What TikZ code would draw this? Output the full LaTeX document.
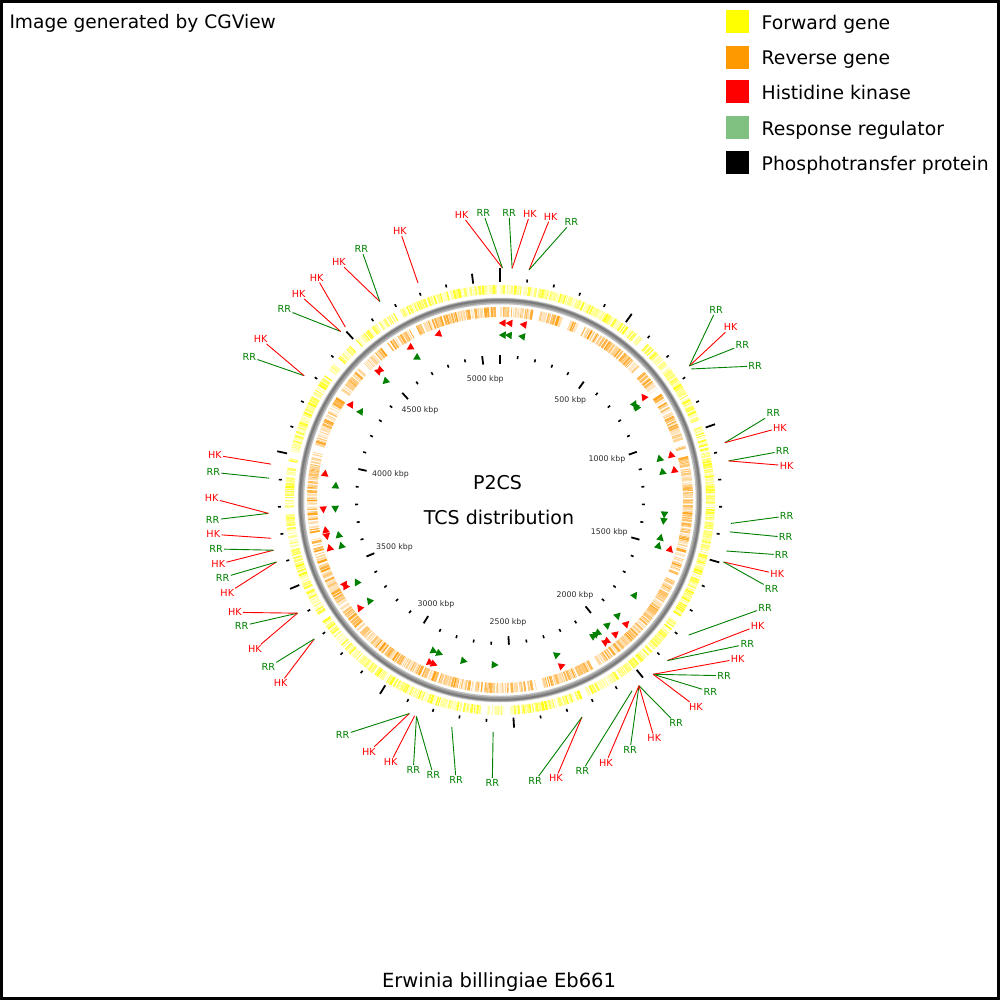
\documentclass[tikz,border=0pt]{standalone}
\usepackage{fontspec}
\setmainfont{DejaVu Sans}
\definecolor{fwdc}{RGB}{255,255,0}
\definecolor{revc}{RGB}{255,153,0}
\definecolor{hkc}{RGB}{255,0,0}
\definecolor{rrc}{RGB}{0,128,0}
\definecolor{rrleg}{RGB}{128,192,128}
\definecolor{kbpc}{RGB}{45,45,45}
\tikzset{
  hkline/.style={draw=hkc, line width=0.9pt},
  rrline/.style={draw=rrc, line width=0.9pt},
  hklab/.style={text=hkc, font=\fontsize{9.7}{10}\selectfont, inner sep=1.2pt},
  rrlab/.style={text=rrc, font=\fontsize{9.7}{10}\selectfont, inner sep=1.2pt},
  hktri/.style={fill=hkc},
  rrtri/.style={fill=rrc},
  majortick/.style={line width=1.8pt, draw=black},
  minortick/.style={line width=1.6pt, draw=black},
  kbplab/.style={text=kbpc, font=\fontsize{7.8}{8}\selectfont, inner sep=0pt},
  legbox/.style={minimum size=23pt, inner sep=0pt, draw=none},
  legtext/.style={font=\fontsize{18.8}{20}\selectfont, anchor=base west, inner sep=0pt},
  bigtext/.style={font=\fontsize{19}{21}\selectfont, anchor=base, inner sep=0pt},
}
% gene ring: #1 r inner, #2 r outer, #3 colour, #4 seed
\newcommand\GeneRing[4]{%
  \pgfmathsetseed{#4}%
  \xdef\GRang{0}%
  \pgfmathsetmacro\GRmid{(#1+#2)/2}%
  \foreach \i in {1,...,800}{%
    \pgfmathsetmacro\GRw{0.4+2.4*rnd}%
    \pgfmathsetmacro\GRgp{0.15+2.3*rnd*rnd+(rnd<0.03)*6}%
    \pgfmathsetmacro\GRop{0.22+0.7*rnd}%
    \pgfmathsetmacro\GRa{\GRang+\GRw*28.6479/\GRmid}%
    \pgfmathsetmacro\GRn{\GRang+(\GRw+\GRgp)*57.2958/\GRmid}%
    \ifdim\GRa pt<359.6pt
      \draw[draw=#3, draw opacity=\GRop, line width=\GRw pt] ({90-\GRa}:#1pt) -- ({90-\GRa}:#2pt);
    \fi
    \xdef\GRang{\GRn}%
  }%
}
% TCS arrowhead: #1 angle (clockwise from top), #2 radius, #3 direction (+1 cw / -1 ccw), #4 style
\newcommand\TcsTri[4]{%
  \pgfmathsetmacro\TTda{3.4/#2*57.2958}%
  \pgfmathsetmacro\TTa{90-(#1+(#3)*\TTda)}%
  \pgfmathsetmacro\TTb{90-(#1-(#3)*\TTda)}%
  \pgfmathsetmacro\TTi{#2-3.8}%
  \pgfmathsetmacro\TTo{#2+3.8}%
  \fill[#4] (\TTa:#2pt) -- (\TTb:\TTi pt) -- (\TTb:\TTo pt) -- cycle;%
}
% label: #1 name, #2 kind, #3 text, #4 x, #5 y, #6 anchor coordinate
\newcommand\TcsLab[6]{%
  \node[#2lab] (#1) at (#4,#5) {#3};
  \draw[#2line] (#1) -- (#6);
}
\begin{document}
\begin{tikzpicture}[x=1pt,y=-1pt]
\useasboundingbox (0,0) rectangle (1000,1000);
\fill[white] (0,0) rectangle (1000,1000);
\draw[line width=3pt] (1.5,1.5) rectangle (998.5,998.5);
\coordinate (C) at (500,500);
\begin{scope}[shift={(C)}]
  % gene rings
  \GeneRing{206}{215}{fwdc}{7}
  \GeneRing{183}{193}{revc}{11}
  % backbone
  \draw[line width=6.5pt, black!25] (0,0) circle[radius=199pt];
  \draw[line width=4.2pt, black!40] (0,0) circle[radius=199.3pt];
  \draw[line width=1.8pt, black!52] (0,0) circle[radius=199.8pt];
  % rulers
  \foreach \k in {0,...,50}{%
    \pgfmathsetmacro\tk{90-\k*7.0586}%
    \pgfmathtruncatemacro\mk{mod(\k,5)}%
    \ifnum\mk=0
      \draw[majortick] (\tk:218pt) -- (\tk:228pt);
      \draw[majortick] (\tk:136.5pt) -- (\tk:145pt);
    \else
      \draw[minortick] (\tk:219.2pt) -- (\tk:222.2pt);
      \draw[minortick] (\tk:142pt) -- (\tk:145pt);
    \fi
  }
  \draw[majortick] (90:218pt) -- (90:232pt);
  % label anchor points
  \foreach \n/\t in {a1/0.6,a2/3.0,a3/7.2,a4/54.7,a5/55.6,a6/75.7,a7/80.3,a8/95.8,a9/97.9,a10/102.7,
      a11/105.5,a12/125.6,a13/133.8,a14/138.7,a15/143.2,a16/145.3,a17/159.3,a18/181.7,a19/192.0,
      a20/201.1,a21/201.6,a22/203.0,a23/233.2,a24/240.8,a25/254.5,a26/257.5,a27/260.5,a28/266.7,
      a29/275.4,a30/278.9,a31/302.4,a32/316.6,a33/318.2,a34/328.8,a35/339.3}{
    \coordinate (\n) at ({90-\t}:232pt);
  }
  % histidine kinases
  \TcsTri{0.7}{177}{-1}{hktri}
  \TcsTri{2.9}{177}{-1}{hktri}
  \TcsTri{7.5}{177}{-1}{hktri}
  \TcsTri{54.2}{177}{-1}{hktri}
  \TcsTri{75.0}{177}{-1}{hktri}
  \TcsTri{80.0}{177}{-1}{hktri}
  \TcsTri{105.9}{177}{-1}{hktri}
  \TcsTri{134.2}{177}{-1}{hktri}
  \TcsTri{139.0}{177}{-1}{hktri}
  \TcsTri{143.2}{177}{1}{hktri}
  \TcsTri{143.2}{177}{-1}{hktri}
  \TcsTri{159.4}{177}{-1}{hktri}
  \TcsTri{201.8}{177}{-1}{hktri}
  \TcsTri{203.1}{177}{-1}{hktri}
  \TcsTri{232.7}{177}{1}{hktri}
  \TcsTri{241.1}{177}{1}{hktri}
  \TcsTri{241.1}{177}{-1}{hktri}
  \TcsTri{254.5}{177}{1}{hktri}
  \TcsTri{258.0}{177}{-1}{hktri}
  \TcsTri{260.4}{177}{1}{hktri}
  \TcsTri{266.8}{177}{-1}{hktri}
  \TcsTri{278.8}{177}{1}{hktri}
  \TcsTri{302.9}{177}{1}{hktri}
  \TcsTri{317.0}{177}{-1}{hktri}
  \TcsTri{317.0}{177}{1}{hktri}
  \TcsTri{329.3}{177}{-1}{hktri}
  \TcsTri{339.4}{177}{-1}{hktri}
  % response regulators
  \TcsTri{0.8}{165}{-1}{rrtri}
  \TcsTri{2.9}{165}{-1}{rrtri}
  \TcsTri{7.5}{165}{-1}{rrtri}
  \TcsTri{54.9}{165}{1}{rrtri}
  \TcsTri{54.9}{165}{-1}{rrtri}
  \TcsTri{55.6}{165}{-1}{rrtri}
  \TcsTri{75.2}{165}{-1}{rrtri}
  \TcsTri{79.9}{165}{-1}{rrtri}
  \TcsTri{95.2}{165}{1}{rrtri}
  \TcsTri{97.5}{165}{1}{rrtri}
  \TcsTri{103.0}{165}{-1}{rrtri}
  \TcsTri{105.9}{165}{-1}{rrtri}
  \TcsTri{125.0}{165}{-1}{rrtri}
  \TcsTri{134.2}{165}{-1}{rrtri}
  \TcsTri{139.1}{165}{-1}{rrtri}
  \TcsTri{144.0}{165}{1}{rrtri}
  \TcsTri{144.0}{165}{-1}{rrtri}
  \TcsTri{145.3}{165}{-1}{rrtri}
  \TcsTri{159.6}{165}{-1}{rrtri}
  \TcsTri{181.7}{165}{-1}{rrtri}
  \TcsTri{192.5}{165}{-1}{rrtri}
  \TcsTri{201.4}{165}{-1}{rrtri}
  \TcsTri{203.5}{165}{-1}{rrtri}
  \TcsTri{232.6}{165}{1}{rrtri}
  \TcsTri{240.4}{165}{1}{rrtri}
  \TcsTri{254.2}{165}{1}{rrtri}
  \TcsTri{258.0}{165}{1}{rrtri}
  \TcsTri{266.8}{165}{-1}{rrtri}
  \TcsTri{275.2}{165}{1}{rrtri}
  \TcsTri{302.7}{165}{1}{rrtri}
  \TcsTri{315.8}{165}{-1}{rrtri}
  \TcsTri{329.4}{165}{-1}{rrtri}
\end{scope}
% ruler labels
\node[kbplab] (k500) at (570.3,400) {500 kbp};
\node[kbplab] (k1000) at (607,459) {1000 kbp};
\node[kbplab] (k1500) at (609.3,532.7) {1500 kbp};
\node[kbplab] (k2000) at (575,595.3) {2000 kbp};
\node[kbplab] (k2500) at (508,622.3) {2500 kbp};
\node[kbplab] (k3000) at (436,604) {3000 kbp};
\node[kbplab] (k3500) at (394.5,547) {3500 kbp};
\node[kbplab] (k4000) at (390.5,474) {4000 kbp};
\node[kbplab] (k4500) at (420,410) {4500 kbp};
\node[kbplab] (k5000) at (485.3,379.3) {5000 kbp};
% feature labels
\TcsLab{l1}{hk}{HK}{461.7}{215}{a1}
\TcsLab{l2}{rr}{RR}{483.3}{213.3}{a1}
\TcsLab{l3}{rr}{RR}{509}{213}{a2}
\TcsLab{l4}{hk}{HK}{530}{214}{a2}
\TcsLab{l5}{hk}{HK}{550.7}{216.7}{a3}
\TcsLab{l6}{rr}{RR}{571.3}{222.3}{a3}
\TcsLab{l7}{rr}{RR}{716}{310}{a4}
\TcsLab{l8}{hk}{HK}{730.7}{327.3}{a4}
\TcsLab{l9}{rr}{RR}{742.3}{345}{a4}
\TcsLab{l10}{rr}{RR}{755}{366}{a5}
\TcsLab{l11}{rr}{RR}{773.3}{413.3}{a6}
\TcsLab{l12}{hk}{HK}{780}{427.7}{a6}
\TcsLab{l13}{rr}{RR}{782.7}{451}{a7}
\TcsLab{l14}{hk}{HK}{786.7}{465.7}{a7}
\TcsLab{l15}{rr}{RR}{786.7}{516}{a8}
\TcsLab{l16}{rr}{RR}{785.7}{537.3}{a9}
\TcsLab{l17}{rr}{RR}{781.7}{555}{a10}
\TcsLab{l18}{hk}{HK}{777.3}{574}{a11}
\TcsLab{l19}{rr}{RR}{771.7}{589}{a11}
\TcsLab{l20}{rr}{RR}{765}{607.7}{a12}
\TcsLab{l21}{hk}{HK}{757.7}{625.7}{a13}
\TcsLab{l22}{rr}{RR}{747.3}{644}{a13}
\TcsLab{l23}{hk}{HK}{737.7}{659}{a14}
\TcsLab{l24}{rr}{RR}{724}{675.7}{a14}
\TcsLab{l25}{rr}{RR}{710.3}{691.7}{a14}
\TcsLab{l26}{hk}{HK}{696}{706.7}{a14}
\TcsLab{l27}{rr}{RR}{676}{723.3}{a15}
\TcsLab{l28}{hk}{HK}{654.3}{738.3}{a15}
\TcsLab{l29}{rr}{RR}{630}{750}{a15}
\TcsLab{l30}{hk}{HK}{606}{762.7}{a15}
\TcsLab{l31}{rr}{RR}{582.3}{771}{a16}
\TcsLab{l32}{hk}{HK}{556}{778.3}{a17}
\TcsLab{l33}{rr}{RR}{535}{781}{a17}
\TcsLab{l34}{rr}{RR}{492.3}{782.7}{a18}
\TcsLab{l35}{rr}{RR}{456}{780}{a19}
\TcsLab{l36}{rr}{RR}{433.3}{775}{a20}
\TcsLab{l37}{rr}{RR}{413.3}{770}{a20}
\TcsLab{l38}{hk}{HK}{390.7}{762.3}{a21}
\TcsLab{l39}{hk}{HK}{369}{751.7}{a22}
\TcsLab{l40}{rr}{RR}{342.7}{735}{a22}
\TcsLab{l41}{hk}{HK}{280.7}{683.3}{a23}
\TcsLab{l42}{rr}{RR}{268.3}{667.3}{a23}
\TcsLab{l43}{hk}{HK}{255}{649.3}{a24}
\TcsLab{l44}{rr}{RR}{241.7}{626}{a24}
\TcsLab{l45}{hk}{HK}{235}{612.3}{a24}
\TcsLab{l46}{hk}{HK}{227.3}{593.3}{a25}
\TcsLab{l47}{rr}{RR}{222.7}{577.7}{a25}
\TcsLab{l48}{hk}{HK}{218.3}{564.3}{a26}
\TcsLab{l49}{rr}{RR}{216}{549}{a26}
\TcsLab{l50}{hk}{HK}{213.3}{534.3}{a27}
\TcsLab{l51}{rr}{RR}{212.7}{520}{a28}
\TcsLab{l52}{hk}{HK}{211.7}{498.3}{a28}
\TcsLab{l53}{rr}{RR}{213.3}{472.3}{a29}
\TcsLab{l54}{hk}{HK}{215}{455}{a30}
\TcsLab{l55}{rr}{RR}{249.3}{356.7}{a31}
\TcsLab{l56}{hk}{HK}{260.7}{339}{a31}
\TcsLab{l57}{rr}{RR}{284.3}{309.3}{a32}
\TcsLab{l58}{hk}{HK}{298.7}{294}{a32}
\TcsLab{l59}{hk}{HK}{316.7}{277.7}{a33}
\TcsLab{l60}{hk}{HK}{339}{262.3}{a34}
\TcsLab{l61}{rr}{RR}{361.3}{249.3}{a34}
\TcsLab{l62}{hk}{HK}{400}{231}{a35}
% titles
\node[font=\fontsize{18.6}{20}\selectfont, anchor=base west, inner sep=0pt] (title) at (9.3,28.7) {Image generated by CGView};
\node[bigtext] (p2cs) at (497.5,489.3) {P2CS};
\node[bigtext] (tcsd) at (499,524) {TCS distribution};
\node[font=\fontsize{19.5}{21}\selectfont, anchor=base, inner sep=0pt] (org) at (499,987.3) {Erwinia billingiae Eb661};
% legend
\node[legbox, fill=fwdc] (lg1) at (737.5,21.7) {};
\node[legbox, fill=revc] (lg2) at (737.5,57.3) {};
\node[legbox, fill=hkc] (lg3) at (737.5,92) {};
\node[legbox, fill=rrleg] (lg4) at (737.5,127.7) {};
\node[legbox, fill=black] (lg5) at (737.5,162.7) {};
\node[legtext] (lt1) at (761.5,29.3) {Forward gene};
\node[legtext] (lt2) at (761.5,64.9) {Reverse gene};
\node[legtext] (lt3) at (761.5,99.6) {Histidine kinase};
\node[legtext] (lt4) at (761.5,135.3) {Response regulator};
\node[legtext] (lt5) at (761.5,170.3) {Phosphotransfer protein};
\end{tikzpicture}
\end{document}
